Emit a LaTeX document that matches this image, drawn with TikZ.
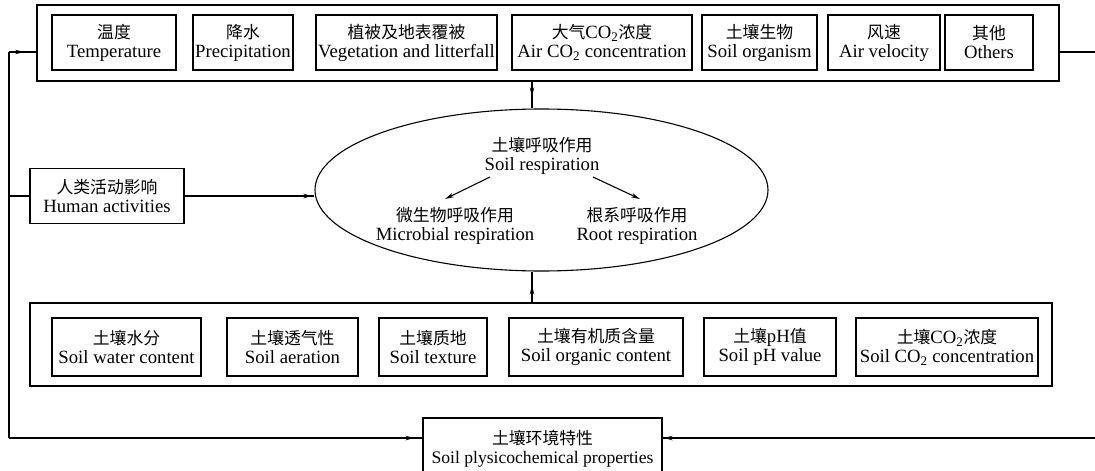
\documentclass[tikz,border=0pt]{standalone}
\usepackage{fontspec}
\setmainfont{Liberation Serif}
\newfontfamily\zh{Noto Sans CJK SC}[Scale=0.9]
\usetikzlibrary{arrows.meta,shapes.geometric,decorations.markings,calc}
\tikzset{
  fnt/.style={font=\fontsize{18.7}{19}\selectfont},
  box/.style={draw,line width=1.1pt,inner sep=0pt,align=center,minimum height=55pt,fnt},
  frame/.style={draw,line width=1.1pt,inner sep=0pt},
  conn/.style={line width=1.1pt},
  tip/.style={-{Stealth[length=9pt,width=4.5pt]}},
  arrowat/.style={postaction={decorate},decoration={markings,mark=at position #1 with {\arrow{Stealth[length=9pt,width=4.5pt]}}}},
  txt/.style={align=center,inner sep=0pt,fnt},
}
\begin{document}
\begin{tikzpicture}[x=1pt,y=-1pt]
\useasboundingbox (0,0) rectangle (1095,471);
% top frame and factors
\node[frame,minimum width=1022pt,minimum height=76pt] (top) at (548,43) {};
\node[box,minimum width=124pt] (t1) at (114,42.5) {{\zh 温度}\\Temperature};
\node[box,minimum width=100pt] (t2) at (243,42.5) {{\zh 降水}\\Precipitation};
\node[box,minimum width=181pt] (t3) at (406.5,42.5) {{\zh 植被及地表覆被}\\Vegetation and litterfall};
\node[box,minimum width=180pt] (t4) at (602,42.5) {{\zh 大气}CO\textsubscript{2}{\zh 浓度}\\Air CO\textsubscript{2} concentration};
\node[box,minimum width=115pt] (t5) at (759.5,42.5) {{\zh 土壤生物}\\Soil organism};
\node[box,minimum width=112pt] (t6) at (884,42.5) {{\zh 风速}\\Air velocity};
\node[box,minimum width=88pt] (t7) at (989,42.5) {{\zh 其他}\\Others};
% bottom frame and soil factors
\node[frame,minimum width=1022pt,minimum height=83pt] (bot) at (541,344.5) {};
\node[box,minimum width=149pt,minimum height=58pt] (b1) at (126.5,347) {{\zh 土壤水分}\\Soil water content};
\node[box,minimum width=131pt,minimum height=58pt] (b2) at (292.5,347) {{\zh 土壤透气性}\\Soil aeration};
\node[box,minimum width=108pt,minimum height=58pt] (b3) at (433,347) {{\zh 土壤质地}\\Soil texture};
\node[box,minimum width=174pt,minimum height=58pt] (b4) at (596,347) {{\zh 土壤有机质含量}\\Soil organic content};
\node[box,minimum width=132pt,minimum height=58pt] (b5) at (770,347) {{\zh 土壤}pH{\zh 值}\\Soil pH value};
\node[box,minimum width=182pt,minimum height=58pt] (b6) at (947,347) {{\zh 土壤}CO\textsubscript{2}{\zh 浓度}\\Soil CO\textsubscript{2} concentration};
% human activities
\node[box,minimum width=154pt] (hum) at (107,196) {{\zh 人类活动影响}\\Human activities};
% ellipse
\node[ellipse,draw,line width=1.1pt,minimum width=453pt,minimum height=162pt,inner sep=0pt] (ell) at (541.5,190) {};
\node[txt] (sr) at (542,156) {{\zh 土壤呼吸作用}\\Soil respiration};
\node[txt] (mr) at (455,226) {{\zh 微生物呼吸作用}\\Microbial respiration};
\node[txt] (rr) at (637,226) {{\zh 根系呼吸作用}\\Root respiration};
% soil environment box (cut by the lower border)
\node[box,minimum width=239pt,minimum height=62pt] (soil) at (542.5,449) {{\zh 土壤环境特性}\\{\fontsize{17.6}{19}\selectfont Soil plysicochemical properties}};
% helper coordinates
\coordinate (vx) at (532,0);
\coordinate (L1) at (9,52);
\coordinate (L2) at (9,438);
\coordinate (R1) at (1096,52);
\coordinate (R2) at (1096,438);
% connectors
\draw[conn,arrowat=0.55] (top.south -| vx) -- (ell.north -| vx);
\draw[conn,arrowat=0.55] (bot.north -| vx) -- (ell.south -| vx);
\draw[conn,arrowat=-2pt] (hum.east) -- (ell.west |- hum.east);
\draw[conn] (hum.west) -- (hum.west -| L1);
\draw[conn] (L1) -- (L2);
\draw[conn,arrowat=0.55] (L1) -- (L1 -| top.west);
\draw[conn,arrowat=-8pt] (L2) -- (L2 -| soil.west);
\draw[conn] (R1 -| top.east) -- (R1);
\draw[conn,arrowat=-1pt] (R2) -- (R2 -| soil.east);
\draw[conn,tip] ($(sr.center)+(-52,21)$) -- ($(mr.center)+(-10,-27)$);
\draw[conn,tip] ($(sr.center)+(51,21)$) -- ($(rr.center)+(3,-27)$);
\end{tikzpicture}
\end{document}
